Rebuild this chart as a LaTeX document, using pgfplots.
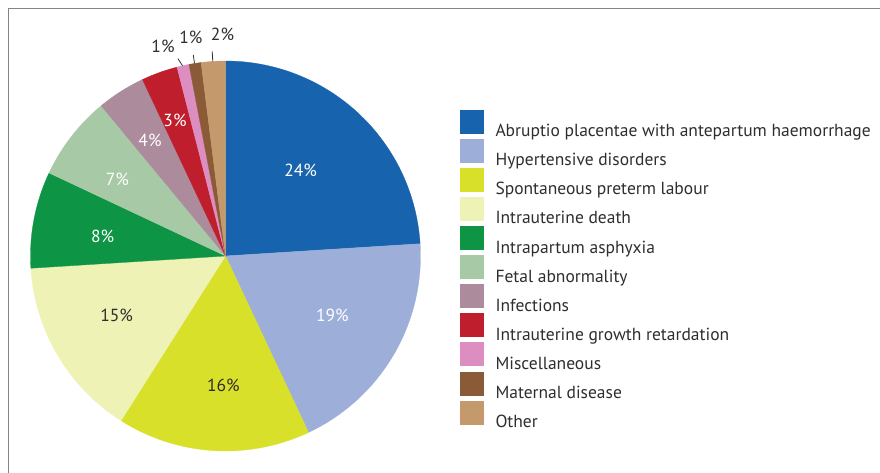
\documentclass[border=0pt]{standalone}
\usepackage{fontspec}
\setmainfont{PT Sans}
\usepackage{pgfplots}
\pgfplotsset{compat=1.18}
\definecolor{c1}{HTML}{1763AE}
\definecolor{c2}{HTML}{9DAED8}
\definecolor{c3}{HTML}{D9E02A}
\definecolor{c4}{HTML}{EEF2B5}
\definecolor{c5}{HTML}{0D9444}
\definecolor{c6}{HTML}{A7C9A5}
\definecolor{c7}{HTML}{AC8B9D}
\definecolor{c8}{HTML}{BF1E2D}
\definecolor{c9}{HTML}{DD8EC1}
\definecolor{c10}{HTML}{8A5B36}
\definecolor{c11}{HTML}{C49A6C}
\definecolor{txt}{HTML}{2E2E2E}
\definecolor{frame}{HTML}{858585}
% slice: start and end as cumulative percentages
\newcommand{\slice}[4]{%
  \addplot[fill=#3, draw=#3, line width=0.3pt, domain=#1:#2, samples=60, variable=\t]
    ({225.5+195*cos(90-3.6*\t)},{217+195*sin(90-3.6*\t)}) -- (225.5,217) -- cycle;
  \addlegendentry{#4}}
\begin{document}
\begin{tikzpicture}
\begin{axis}[x=1pt, y=1pt, xmin=0, xmax=880, ymin=0, ymax=473,
  hide axis, clip=false, anchor=south west, at={(0,0)},
  legend cell align=left,
  legend image code/.code={\fill[#1] (0pt,-3.5pt) rectangle (23pt,19.5pt);},
  legend style={at={(axis cs:460,363.5)}, anchor=north west, draw=none, fill=none,
    inner sep=0pt, row sep=-3.2pt, text=txt,
    font=\fontsize{17.5}{20}\selectfont,
    nodes={inner sep=0pt, text height=20pt, text depth=5.3pt},
    /tikz/every odd column/.append style={column sep=12pt}},
]
\slice{0}{24}{c1}{Abruptio placentae with antepartum haemorrhage}
\slice{24}{43}{c2}{Hypertensive disorders}
\slice{43}{59}{c3}{Spontaneous preterm labour}
\slice{59}{74}{c4}{Intrauterine death}
\slice{74}{82}{c5}{Intrapartum asphyxia}
\slice{82}{89}{c6}{Fetal abnormality}
\slice{89}{93}{c7}{Infections}
\slice{93}{96}{c8}{Intrauterine growth retardation}
\slice{96}{97}{c9}{Miscellaneous}
\slice{97}{98}{c10}{Maternal disease}
\slice{98}{100}{c11}{Other}
% frame
\draw[frame, line width=1.5pt] (axis cs:8.5,-5) -- (axis cs:8.5,464.5) -- (axis cs:885,464.5);
% leader lines
\draw[txt, line width=0.8pt] (axis cs:182.5,407.3) -- (axis cs:178,414.3);
\draw[txt, line width=0.8pt] (axis cs:194.5,409.6) -- (axis cs:193.3,418);
\draw[txt, line width=0.8pt] (axis cs:212.8,411.6) -- (axis cs:212.2,421.5);
% labels
\begin{scope}[every node/.style={font=\fontsize{17.5}{19}\selectfont, inner sep=0pt}]
\node[white] at (axis cs:300.7,303) {24\%};
\node[white] at (axis cs:332.3,158) {19\%};
\node[txt] at (axis cs:223.3,87.3) {16\%};
\node[txt] at (axis cs:116.7,158) {15\%};
\node[white] at (axis cs:102.7,236.3) {8\%};
\node[white] at (axis cs:117.3,294) {7\%};
\node[white] at (axis cs:150,332.3) {4\%};
\node[white] at (axis cs:175,353) {3\%};
\node[txt] at (axis cs:163,427) {1\%};
\node[txt] at (axis cs:190.8,435.5) {1\%};
\node[txt] at (axis cs:222.5,438.8) {2\%};
\end{scope}
\end{axis}
\pgfresetboundingbox
\path[use as bounding box] (0,0) rectangle (880pt,473pt);
\end{tikzpicture}
\end{document}
